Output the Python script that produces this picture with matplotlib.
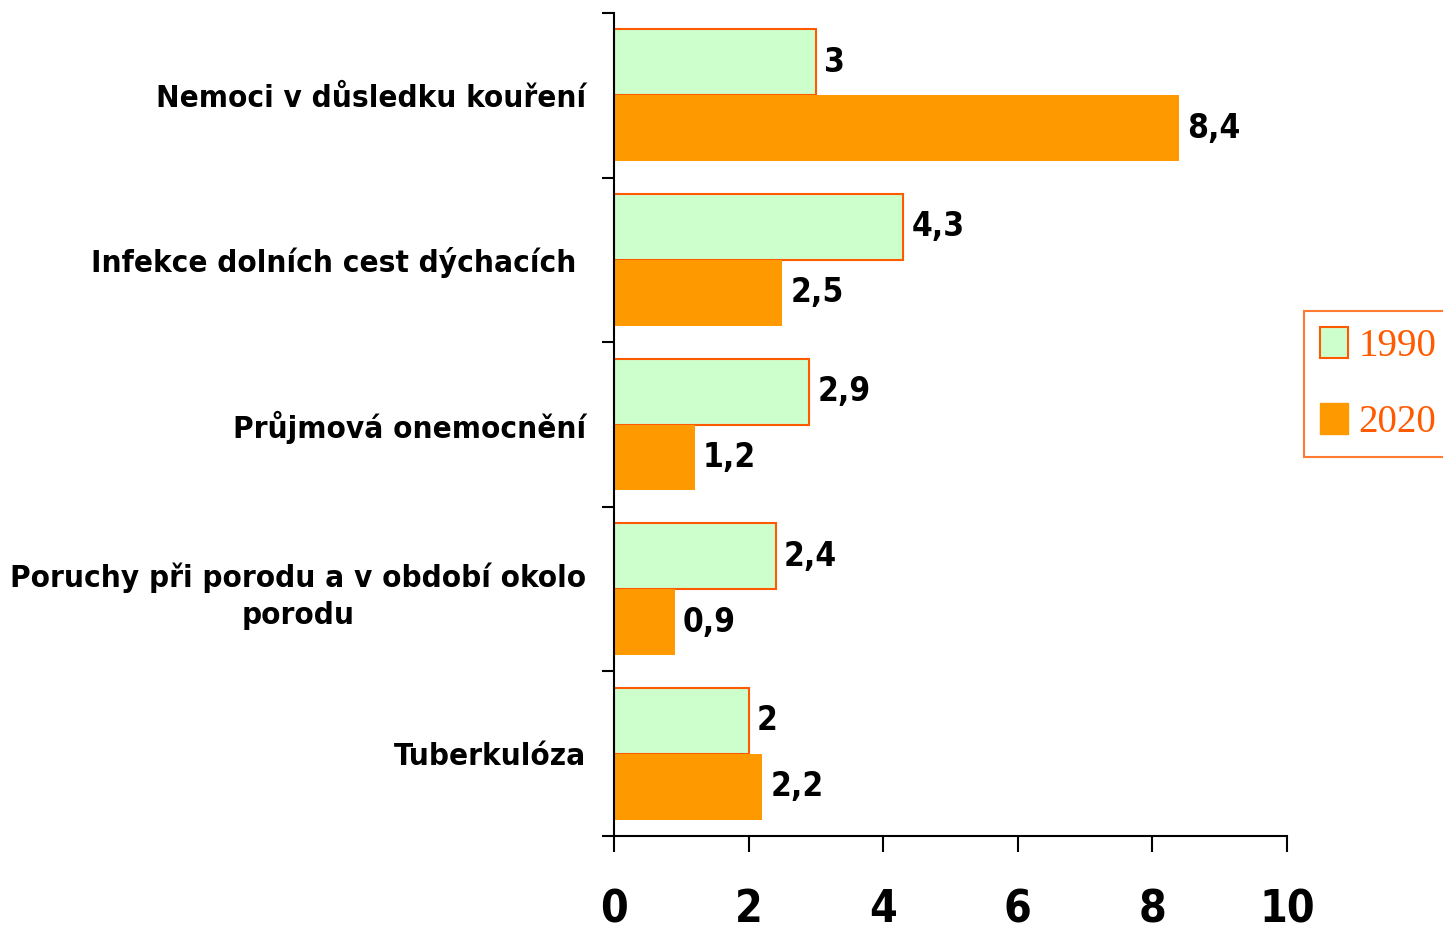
import matplotlib
matplotlib.use("Agg")
import matplotlib.pyplot as plt
import numpy as np
from matplotlib.patches import Patch

# data
categories = [
    "Nemoci v důsledku kouření",
    "Infekce dolních cest dýchacích ",
    "Průjmová onemocnění",
    "Poruchy při porodu a v období okolo\nporodu",
    "Tuberkulóza",
]
values_1990 = [3, 4.3, 2.9, 2.4, 2]
values_2020 = [8.4, 2.5, 1.2, 0.9, 2.2]
series_names = ["1990", "2020"]
xticks = [0, 2, 4, 6, 8, 10]

green = "#CCFFCC"
orange = "#FF9900"
edge = "#FF5A00"

bold_narrow = dict(family="DejaVu Sans", fontstretch="condensed", fontweight="bold")

fig = plt.figure(figsize=(14.43, 9.31), dpi=100)
ax = fig.add_axes([614 / 1443, 1 - 836 / 931, 673 / 1443, 823 / 931])

n = len(categories)
y = np.arange(n)
h = 0.4

b1 = ax.barh(y - h / 2, values_1990, height=h, color=green, edgecolor=edge, linewidth=1.5)
b2 = ax.barh(y + h / 2, values_2020, height=h, color=orange, edgecolor=orange, linewidth=0)

def fmt(v):
    return ("%g" % v).replace(".", ",")

for bars, vals in ((b1, values_1990), (b2, values_2020)):
    for rect, v in zip(bars, vals):
        ax.text(v + 0.12, rect.get_y() + rect.get_height() / 2, fmt(v),
                ha="left", va="center", fontsize=24, color="black", **bold_narrow)

ax.set_ylim(n - 0.5, -0.5)
ax.set_xlim(0, 10)

ax.set_yticks(y)
ax.set_yticklabels(categories, fontsize=22.5, multialignment="center",
                   linespacing=1.35, **bold_narrow)
ax.set_yticks(np.arange(n + 1) - 0.5, minor=True)
ax.tick_params(axis="y", which="major", length=0, pad=20)
ax.tick_params(axis="y", which="minor", length=9, width=1.5, direction="out")

ax.set_xticks(xticks)
ax.set_xticklabels([str(t) for t in xticks], fontsize=32, **bold_narrow)
ax.tick_params(axis="x", length=11.5, width=1.5, direction="out", pad=26)

for s in ("top", "right"):
    ax.spines[s].set_visible(False)
for s in ("left", "bottom"):
    ax.spines[s].set_linewidth(1.5)

handles = [Patch(facecolor=green, edgecolor=edge, linewidth=1.5),
           Patch(facecolor=orange, edgecolor=orange)]
leg = fig.legend(handles, series_names, loc="upper left",
                 bbox_to_anchor=(1304 / 1443, 1 - 311 / 931),
                 prop={"family": "Liberation Serif", "size": 28},
                 frameon=True, fancybox=False, handlelength=0.72, handleheight=0.85,
                 handletextpad=0.28, labelspacing=1.0, borderpad=0.4, borderaxespad=0)
leg.get_frame().set_edgecolor(edge)
leg.get_frame().set_linewidth(1.5)
for t in leg.get_texts():
    t.set_color(edge)

fig.savefig("out.png", dpi=100)
